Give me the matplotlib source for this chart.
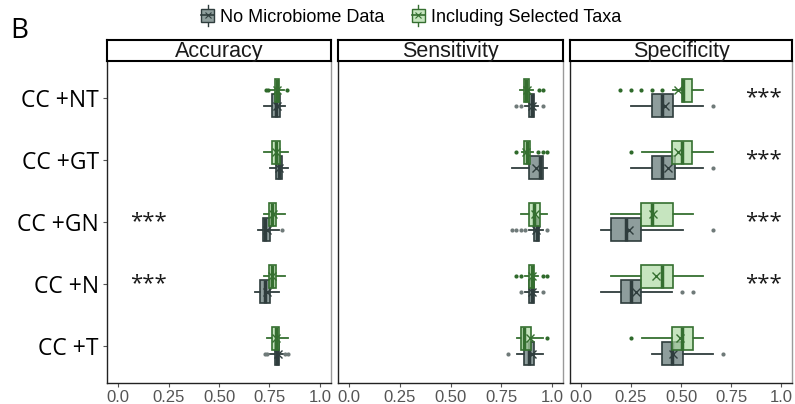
import matplotlib
matplotlib.use("Agg")
import matplotlib.pyplot as plt
from matplotlib.lines import Line2D
from matplotlib.patches import Patch, Rectangle
from matplotlib.legend_handler import HandlerBase

plt.rcParams['font.family'] = ['Liberation Sans', 'DejaVu Sans']

categories = ["CC +NT", "CC +GT", "CC +GN", "CC +N", "CC +T"]
metrics = ["Accuracy", "Sensitivity", "Specificity"]
groups = ["No Microbiome Data", "Including Selected Taxa"]

# each row: [whisker low, q1, median, q3, whisker high], one row per category
acc_none = [[0.721, 0.765, 0.781, 0.800, 0.827],
            [0.751, 0.781, 0.795, 0.811, 0.843],
            [0.692, 0.718, 0.730, 0.754, 0.795],
            [0.676, 0.702, 0.730, 0.754, 0.795],
            [0.754, 0.778, 0.788, 0.798, 0.819]]
acc_none_mean = [0.785, 0.795, 0.738, 0.738, 0.790]
acc_none_out = [[], [], [0.811], [], [0.728, 0.738, 0.829, 0.840]]

acc_incl = [[0.755, 0.778, 0.788, 0.798, 0.820],
            [0.721, 0.765, 0.780, 0.800, 0.843],
            [0.721, 0.749, 0.762, 0.783, 0.827],
            [0.721, 0.749, 0.765, 0.780, 0.827],
            [0.738, 0.765, 0.780, 0.797, 0.843]]
acc_incl_mean = [0.787, 0.782, 0.768, 0.765, 0.782]
acc_incl_out = [[0.733, 0.745, 0.835], [], [], [], []]

sens_none = [[0.868, 0.889, 0.904, 0.914, 0.933],
             [0.803, 0.889, 0.942, 0.958, 0.974],
             [0.885, 0.912, 0.927, 0.938, 0.955],
             [0.868, 0.888, 0.900, 0.914, 0.933],
             [0.828, 0.865, 0.885, 0.914, 0.955]]
sens_none_mean = [0.900, 0.920, 0.920, 0.900, 0.900]
sens_none_out = [[0.825, 0.848, 0.955], [], [0.803, 0.825, 0.848, 0.868, 0.977],
                 [0.848, 0.955], [0.782]]

sens_incl = [[0.844, 0.864, 0.873, 0.889, 0.909],
             [0.852, 0.865, 0.879, 0.893, 0.909],
             [0.849, 0.889, 0.914, 0.942, 0.977],
             [0.868, 0.885, 0.900, 0.914, 0.933],
             [0.828, 0.848, 0.865, 0.898, 0.955]]
sens_incl_mean = [0.878, 0.873, 0.917, 0.900, 0.893]
sens_incl_out = [[0.938, 0.958], [0.825, 0.933, 0.955, 0.977], [],
                 [0.825, 0.848, 0.955, 0.977], [0.977]]

spec_none = [[0.250, 0.354, 0.407, 0.458, 0.609],
             [0.250, 0.354, 0.407, 0.470, 0.609],
             [0.099, 0.150, 0.226, 0.301, 0.509],
             [0.099, 0.200, 0.250, 0.301, 0.455],
             [0.354, 0.405, 0.455, 0.509, 0.662]]
spec_none_mean = [0.421, 0.434, 0.238, 0.274, 0.461]
spec_none_out = [[0.662], [0.662], [0.662], [0.505, 0.558], [0.710]]

spec_incl = [[0.458, 0.505, 0.512, 0.557, 0.608],
             [0.303, 0.455, 0.505, 0.557, 0.662],
             [0.150, 0.301, 0.354, 0.458, 0.558],
             [0.150, 0.301, 0.407, 0.458, 0.609],
             [0.303, 0.455, 0.505, 0.558, 0.609]]
spec_incl_mean = [0.487, 0.487, 0.362, 0.373, 0.493]
spec_incl_out = [[0.196, 0.249, 0.301, 0.354, 0.407], [0.250], [], [], [0.250]]

acc_stars = ["", "", "***", "***", ""]
sens_stars = ["", "", "", "", ""]
spec_stars = ["***", "***", "***", "***", ""]

xticks = [0.0, 0.25, 0.5, 0.75, 1.0]
xticklabels = ["0.0", "0.25", "0.50", "0.75", "1.0"]

# look
grey_fill, grey_edge, grey_key = "#5e7472", "#2f3d3d", "#8e9e9c"
green_fill, green_edge, green_key = "#aedaa4", "#356f30", "#c6e5bf"


def to_stats(rows, means, outs):
    return [dict(whislo=r[0], q1=r[1], med=r[2], q3=r[3], whishi=r[4],
                 mean=m, fliers=o) for r, m, o in zip(rows, means, outs)]


def draw(ax, rows, means, outs, pos, fill, edge, z, flier_col):
    res = ax.bxp(to_stats(rows, means, outs), positions=pos, widths=0.37,
                 orientation='horizontal', patch_artist=True, showmeans=True,
                 showcaps=False,
                 boxprops=dict(facecolor=fill, edgecolor=edge, linewidth=1.2, zorder=z),
                 medianprops=dict(color=edge, linewidth=2.5, zorder=z + 0.1),
                 whiskerprops=dict(color=edge, linewidth=1.3, zorder=z - 1),
                 flierprops=dict(marker='o', markersize=3, markerfacecolor=flier_col,
                                 markeredgecolor='none', zorder=z - 1),
                 meanprops=dict(marker='x', markersize=6, markeredgecolor=edge,
                                markeredgewidth=1.0, zorder=z + 0.2))
    # translucent fill, solid outline
    for b in res['boxes']:
        fc = b.get_facecolor()
        b.set_facecolor((fc[0], fc[1], fc[2], 0.7))


class BoxKey(HandlerBase):
    def create_artists(self, legend, orig_handle, xdescent, ydescent, width, height, fontsize, trans):
        fc = orig_handle.get_facecolor()
        ec = orig_handle.get_edgecolor()
        x0, y0 = -xdescent, -ydescent
        cx, cy = x0 + width / 2, y0 + height / 2
        whisk = Line2D([cx, cx], [y0 - 0.3 * height, y0 + 1.3 * height], color=ec, lw=1, transform=trans)
        box = Rectangle((x0 + 0.1 * width, y0), 0.8 * width, height, facecolor=fc,
                        edgecolor=ec, lw=1, transform=trans)
        med = Line2D([x0 + 0.1 * width, x0 + 0.9 * width], [cy, cy], color=ec, lw=1.2, transform=trans)
        mean = Line2D([cx], [cy], marker='x', markersize=4, color=ec, mew=0.8, transform=trans)
        return [whisk, box, med, mean]


panel_data = {
    "Accuracy": (acc_none, acc_none_mean, acc_none_out, acc_incl, acc_incl_mean, acc_incl_out, acc_stars, 0.15),
    "Sensitivity": (sens_none, sens_none_mean, sens_none_out, sens_incl, sens_incl_mean, sens_incl_out, sens_stars, 0.5),
    "Specificity": (spec_none, spec_none_mean, spec_none_out, spec_incl, spec_incl_mean, spec_incl_out, spec_stars, 0.91),
}

W, H = 795, 404
fig = plt.figure(figsize=(W / 100, H / 100), dpi=100)
lefts = [107, 338, 570]
rights = [331, 563, 792]
top, bottom, strip_top = 61, 383, 40

y = list(range(len(categories)))
for i, m in enumerate(metrics):
    l, r = lefts[i], rights[i]
    ax = fig.add_axes([l / W, 1 - bottom / H, (r - l) / W, (bottom - top) / H])
    st = fig.add_axes([l / W, 1 - top / H, (r - l) / W, (top - strip_top) / H])

    nrows, nmean, nout, irows, imean, iout, stars, sx = panel_data[m]
    draw(ax, nrows, nmean, nout, [v + 0.125 for v in y], grey_fill, grey_edge, 3, "#6f7a79")
    draw(ax, irows, imean, iout, [v - 0.125 for v in y], green_fill, green_edge, 5, "#2f6a2b")

    for j, s in enumerate(stars):
        if s:
            ax.text(sx, y[j], s, ha='center', va='center', fontsize=16,
                    family=['Open Sans', 'DejaVu Sans'], color='#1a1a1a')

    ax.set_xlim(-0.055, 1.055)
    ax.set_ylim(len(categories) - 0.4, -0.6)
    ax.set_xticks(xticks)
    ax.set_xticklabels(xticklabels)
    ax.tick_params(axis='x', length=3, width=0.8, color='#555555', labelsize=12,
                   labelcolor='#555555', pad=2)
    if i == 0:
        ax.set_yticks(y)
        ax.set_yticklabels(categories, fontsize=16.5, family=['Open Sans', 'DejaVu Sans'])
        ax.tick_params(axis='y', length=3, width=0.8, color='#555555', pad=3)
    else:
        ax.set_yticks([])
    ax.spines['top'].set_visible(False)
    ax.spines['left'].set_color('#222222')
    ax.spines['bottom'].set_color('#222222')
    ax.spines['right'].set_color('#9a9a9a')
    for s in ['left', 'bottom', 'right']:
        ax.spines[s].set_linewidth(1.0)

    st.set_xticks([])
    st.set_yticks([])
    for s in st.spines.values():
        s.set_color('black')
        s.set_linewidth(1.5)
    st.text(0.5, 0.45, m, ha='center', va='center', fontsize=15.5, color='#1a1a1a',
            transform=st.transAxes)

fig.text(10 / W, 1 - 31 / H, "B", fontsize=20, family=['Open Sans', 'DejaVu Sans'], va='center')

handles = [Patch(facecolor=grey_key, edgecolor=grey_edge),
           Patch(facecolor=green_key, edgecolor=green_edge)]
fig.legend(handles, groups, loc='center', bbox_to_anchor=(0.516, 1 - 17 / H), ncol=2,
           frameon=False, fontsize=13, handler_map={Patch: BoxKey()},
           handlelength=0.9, handleheight=0.75, handletextpad=0.25, columnspacing=1.4,
           borderpad=0.1)

fig.savefig("out.png", dpi=100)
